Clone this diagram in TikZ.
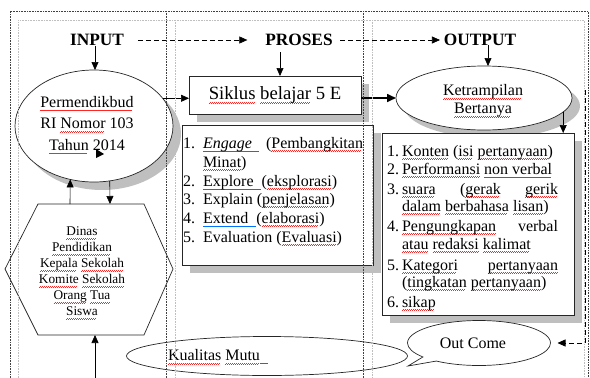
\documentclass[tikz,border=0pt]{standalone}
\usepackage{fontspec}
\setmainfont{Liberation Serif}
\usetikzlibrary{shapes.geometric,shapes.callouts,shadows,arrows.meta,calc}
\newcommand\redsq[1]{\leavevmode{\setbox0\hbox{#1}\rlap{\hbox to \wd0{\color{red!85}\leaders\hbox{\rule[-3.5pt]{1pt}{0.4pt}\rule[-2.8pt]{1pt}{0.4pt}}\hfill}}\box0}}
\newcommand\bluul[1]{\leavevmode{\setbox0\hbox{#1}\rlap{\hbox to \wd0{\color{blue!55!cyan}\leaders\hbox{\rule[-3.4pt]{1pt}{0.9pt}}\hfill}}\box0}}
\begin{document}
\begin{tikzpicture}[x=1pt,y=-1pt,
  every node/.style={inner sep=0pt, outer sep=0pt},
  txt/.style={font=\fontsize{16}{18}\selectfont},
  head/.style={font=\fontsize{17.3}{20}\selectfont\bfseries},
  shp/.style={draw=black!85, line width=0.7pt, fill=white},
  shd/.style={drop shadow={shadow xshift=8pt, shadow yshift=-8pt, fill=black!25, opacity=1}},
  arr/.style={-{Triangle[length=8pt,width=7pt]}, line width=0.6pt},
  thickarr/.style={-{Triangle[length=9pt,width=8pt]}, line width=1.6pt},
  dasharr/.style={-{Triangle[length=8pt,width=7pt]}, dash pattern=on 5pt off 3pt, line width=0.6pt},
  dk/.style={black!75, dash pattern=on 0.8pt off 0.8pt, line width=0.5pt},
  lt/.style={black!25, dash pattern=on 0.8pt off 0.8pt, line width=0.5pt}]
\useasboundingbox (0,0) rectangle (590,378);

% headings
\node[head] (inp) at (97,40) {INPUT};
\node[head] (pro) at (299,40) {PROSES};
\node[head] (out) at (480,40) {OUTPUT};

% input ellipse
\node[shp, shd, ellipse, minimum width=158pt, minimum height=112pt] (e1) at (94,126) {};
\node[align=center, font=\fontsize{16}{21.5}\selectfont] (e1t) at (87,125)
  {\redsq{Permendikbud}\\RI \redsq{Nomor} 103\\\redsq{Tahun} 2014};
\fill (96,149) -- (104,154) -- (96,158) -- cycle;

% hexagon
\coordinate (h1) at (38,204);
\coordinate (h2) at (144,204);
\coordinate (h3) at (173,269);
\coordinate (h4) at (144,335);
\coordinate (h5) at (38,335);
\coordinate (h6) at (5,269);
\draw[shp] (h1) -- (h2) -- (h3) -- (h4) -- (h5) -- (h6) -- cycle;
\node[align=center, font=\fontsize{13.3}{16}\selectfont] (hx) at (82,273)
  {\redsq{Dinas}\\\redsq{Pendidikan}\\\redsq{Kepala} \redsq{Sekolah}\\\redsq{Komite} \redsq{Sekolah}\\\redsq{Orang} \redsq{Tua}\\\redsq{Siswa}};

% process box
\node[shp, shd, minimum width=172pt, minimum height=38pt, font=\fontsize{18.7}{20}\selectfont] (s) at (275,95)
  {\redsq{Siklus} \redsq{belajar} 5 E};

% middle list box
\node[shp, shd, anchor=north west, minimum width=191pt, minimum height=140pt] (m) at (182,125) {};
\node[txt, anchor=base west] (m1n) at (183,148) {1.};
\node[txt, anchor=base west] (m1) at (203,148) {\hbox to 160pt{\bluul{\textit{Engage}\ \ }\hfill(\redsq{Pembangkitan}}};
\node[txt, anchor=base west] (m1b) at (203,167) {\redsq{Minat})};
\node[txt, anchor=base west] (m2n) at (183,186) {2.};
\node[txt, anchor=base west] (m2) at (203,186) {\bluul{Explore\ \ }(\redsq{eksplorasi})};
\node[txt, anchor=base west] (m3n) at (183,204) {3.};
\node[txt, anchor=base west] (m3) at (203,204) {Explain (\redsq{penjelasan})};
\node[txt, anchor=base west] (m4n) at (183,223) {4.};
\node[txt, anchor=base west] (m4) at (203,223) {\bluul{Extend\ \ }(\redsq{elaborasi})};
\node[txt, anchor=base west] (m5n) at (183,242) {5.};
\node[txt, anchor=base west] (m5) at (203,242) {Evaluation (\redsq{Evaluasi})};

% output ellipse
\node[shp, shd, ellipse, minimum width=176pt, minimum height=64pt] (k) at (484,98) {};
\node[align=center, font=\fontsize{16}{18}\selectfont] (kt) at (483,101) {\redsq{Ketrampilan}\\\redsq{Bertanya}};

% right list box
\node[shp, shd, anchor=north west, minimum width=192pt, minimum height=182pt] (r) at (382,133) {};
\node[txt, anchor=base west] (r1n) at (387,156) {1.};
\node[txt, anchor=base west] (r1) at (402,156) {\redsq{Konten} (\redsq{isi} \redsq{pertanyaan})};
\node[txt, anchor=base west] (r2n) at (387,174) {2.};
\node[txt, anchor=base west] (r2) at (402,174) {\redsq{Performansi} \bluul{non verbal}};
\node[txt, anchor=base west] (r3n) at (387,194) {3.};
\node[txt, anchor=base west] (r3) at (402,194) {\hbox to 156pt{\redsq{suara}\hfill(\redsq{gerak}\hfill\redsq{gerik}}};
\node[txt, anchor=base west] (r3b) at (402,211) {\redsq{dalam} \redsq{berbahasa} \redsq{lisan})};
\node[txt, anchor=base west] (r4n) at (387,231) {4.};
\node[txt, anchor=base west] (r4) at (402,231) {\hbox to 156pt{\redsq{Pengungkapan}\hfill verbal}};
\node[txt, anchor=base west] (r4b) at (402,249) {\redsq{atau} \redsq{redaksi} \redsq{kalimat}};
\node[txt, anchor=base west] (r5n) at (387,270) {5.};
\node[txt, anchor=base west] (r5) at (402,270) {\hbox to 156pt{\redsq{Kategori}\hfill\redsq{pertanyaan}}};
\node[txt, anchor=base west] (r5b) at (402,287) {(\redsq{tingkatan} \redsq{pertanyaan})};
\node[txt, anchor=base west] (r6n) at (387,307) {6.};
\node[txt, anchor=base west] (r6) at (402,307) {\redsq{sikap}};

% bottom ellipses
\node[draw=black!85, line width=0.7pt, ellipse, minimum width=281pt, minimum height=39pt] (q) at (267,356) {};
\node[txt, anchor=west] (qt) at (168,357) {\redsq{Kualitas} \redsq{Mutu}\textcolor{blue!55!cyan}{\rule[-3.4pt]{8pt}{0.9pt}}};
\node[shp, txt, ellipse callout, minimum width=143pt, minimum height=45pt, callout absolute pointer={(408,366)}] (oc) at (479,343) {\hspace*{-12pt}Out Come};

% connectors
\draw[dasharr, shorten <=14pt, shorten >=18pt] (inp.east) -- (pro.west);
\draw[dasharr, shorten <=7.5pt, shorten >=4pt] (pro.east) -- (out.west);
\coordinate (ia) at (95,46);
\draw[arr] (ia) -- (ia |- e1.north);
\coordinate (pa) at (280,52);
\draw[arr] (pa) -- (pa |- s.north);
\coordinate (oa) at (488,45);
\draw[arr] (oa) -- (oa |- k.north);
\draw[arr] (e1.22) -- (e1.22 -| s.west);
\draw[thickarr] (s.east |- k.west) -- (k.west);
\draw[arr] (k.-10) -- (k.-10 |- r.north);
\coordinate (hu) at (70,204);
\draw[arr] (hu) -- (e1.246);
\coordinate (hd) at (110,204);
\draw[arr] (e1.286) -- (hd);
\coordinate (hb) at (95,378);
\draw[arr] (hb) -- (hb |- h4);
\coordinate (dr) at (585,90);
\draw[dasharr, shorten >=7pt] (dr) |- (oc.east);

% table grid
\draw[lt] (18,378) -- (18,20) -- (584,20) -- (584,378);
\draw[lt] (175,20) -- (175,378);
\draw[lt] (372,20) -- (372,378);
\draw[dk] (10,378) -- (10,11) -- (588,11) -- (588,378);
\draw[dk] (166,11) -- (166,378);
\draw[dk] (363,11) -- (363,378);
\end{tikzpicture}
\end{document}
